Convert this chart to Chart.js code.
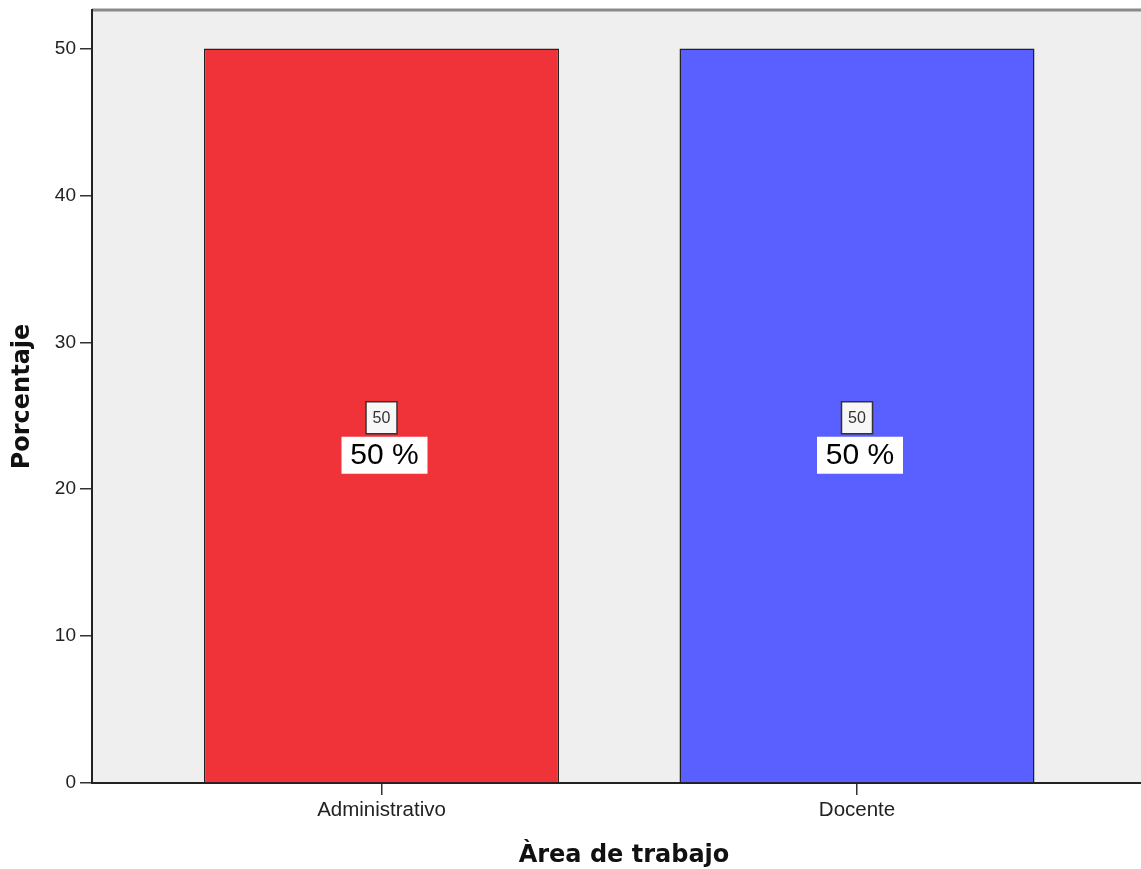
<!DOCTYPE html>
<html>
<head>
<meta charset="utf-8">
<script src="https://cdn.jsdelivr.net/npm/chart.js@4/dist/chart.umd.min.js"></script>
<style>
  html, body { margin: 0; padding: 0; background: #fff; overflow: hidden; }
  #wrap { width: 1156px; height: 869px; }
</style>
</head>
<body>
<div id="wrap"><canvas id="chart" width="1156" height="869"></canvas></div>
<script>
// datos
const categories = ["Administrativo", "Docente"];
const porcentajes = [50, 50];
const conteos = [50, 50];
const yTicks = [0, 10, 20, 30, 40, 50];

const barColors = ["#f03239", "#5a5fff"];

// fondo gris y borde superior del área de trazado
const plotBackground = {
  id: "plotBackground",
  beforeDraw(chart) {
    const { ctx, chartArea: a } = chart;
    ctx.save();
    ctx.fillStyle = "#efefef";
    ctx.fillRect(a.left, a.top, a.right - a.left, a.bottom - a.top);
    ctx.strokeStyle = "#8a8a8a";
    ctx.lineWidth = 3;
    ctx.beginPath();
    ctx.moveTo(a.left, a.top);
    ctx.lineTo(a.right, a.top);
    ctx.stroke();
    ctx.restore();
  }
};

// etiquetas dentro de las barras: recuento y porcentaje
const barLabels = {
  id: "barLabels",
  afterDatasetsDraw(chart) {
    const { ctx } = chart;
    const y = chart.scales.y;
    const meta = chart.getDatasetMeta(0);
    meta.data.forEach((bar, i) => {
      const v = porcentajes[i];
      const cx = bar.x;
      const cy = y.getPixelForValue(v / 2) + 2;
      ctx.save();
      // cajita con el recuento
      ctx.fillStyle = "#f7f7f7";
      ctx.fillRect(cx - 15.5, cy - 16, 31, 32);
      ctx.strokeStyle = "#333";
      ctx.lineWidth = 1.5;
      ctx.strokeRect(cx - 15.5, cy - 16, 31, 32);
      ctx.fillStyle = "#333";
      ctx.font = "16px 'Liberation Sans', Arial, sans-serif";
      ctx.textAlign = "center";
      ctx.textBaseline = "middle";
      ctx.fillText(String(conteos[i]), cx, cy + 1);
      // caja blanca con el porcentaje
      ctx.fillStyle = "#ffffff";
      ctx.fillRect(cx + 3 - 43, cy + 19, 86, 37);
      ctx.fillStyle = "#000";
      ctx.font = "30px 'Liberation Sans', Arial, sans-serif";
      ctx.fillText(v + " %", cx + 3, cy + 38);
      ctx.restore();
    });
  }
};

const titleFont = { family: "'DejaVu Sans', sans-serif", size: 24, weight: "bold", lineHeight: 1.1 };

new Chart(document.getElementById("chart"), {
  type: "bar",
  data: {
    datasets: [{
      data: porcentajes.map((v, i) => ({ x: i + 1, y: v })),
      backgroundColor: barColors,
      borderColor: "#222",
      borderWidth: 1.5,
      categoryPercentage: 1,
      barPercentage: 0.7466
    }]
  },
  options: {
    responsive: false,
    animation: false,
    layout: { padding: { top: 10, right: 0, left: 0, bottom: 0 } },
    plugins: {
      legend: { display: false },
      tooltip: { enabled: false }
    },
    scales: {
      x: {
        type: "linear",
        offset: false,
        min: 0.39117,
        max: 2.62881,
        afterBuildTicks: s => { s.ticks = categories.map((c, i) => ({ value: i + 1 })); },
        afterFit: s => { s.height = 86; s.paddingLeft = 0; s.paddingRight = 0; },
        ticks: {
          font: { family: "'Liberation Sans', Arial, sans-serif", size: 20.5 },
          color: "#222",
          padding: 3,
          autoSkip: false,
          maxRotation: 0,
          callback: v => categories[v - 1]
        },
        grid: { offset: false, drawOnChartArea: false, drawTicks: true, tickLength: 12, color: "#333", lineWidth: 1.5 },
        border: { display: true, color: "#222", width: 2 },
        title: {
          display: true,
          text: "Àrea de trabajo",
          font: titleFont,
          color: "#111",
          padding: { top: 0, bottom: 0 }
        }
      },
      y: {
        min: 0,
        max: 52.62,
        afterBuildTicks: s => { s.ticks = yTicks.map(v => ({ value: v })); },
        afterFit: s => { s.width = 92; s.paddingTop = 0; s.paddingBottom = 0; },
        ticks: { font: { family: "'Liberation Sans', Arial, sans-serif", size: 19 }, color: "#222", padding: 4 },
        grid: { drawOnChartArea: false, drawTicks: true, tickLength: 12, color: "#333", lineWidth: 1.5 },
        border: { display: true, color: "#222", width: 2 },
        title: {
          display: true,
          text: "Porcentaje",
          font: titleFont,
          color: "#111",
          padding: { top: 10, bottom: 0 }
        }
      }
    }
  },
  plugins: [plotBackground, barLabels]
});
</script>
</body>
</html>
